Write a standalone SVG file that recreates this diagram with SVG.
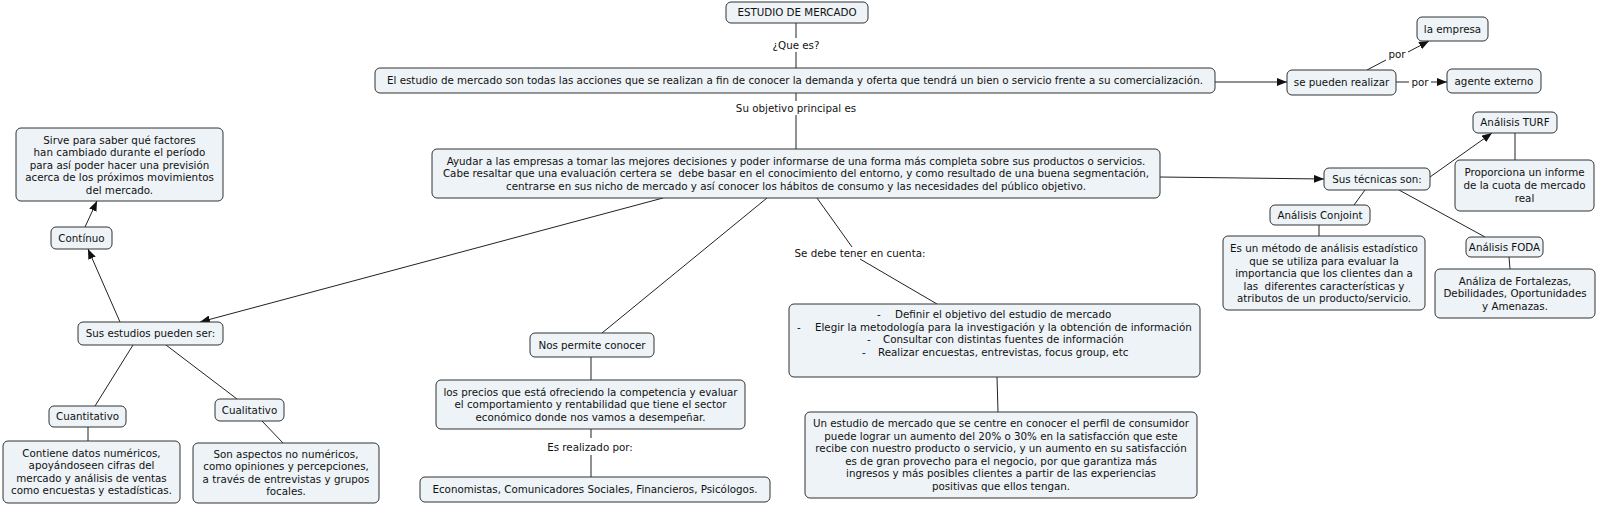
<svg xmlns="http://www.w3.org/2000/svg" width="1600" height="505" viewBox="0 0 1600 505">
<style>
.n rect{fill:#edf3f6;stroke:#333;stroke-width:1}
text{font-family:"DejaVu Sans",Verdana,sans-serif;font-size:10.3px;fill:#111;text-anchor:middle}
text.s{text-anchor:start}
.c line{stroke:#222;stroke-width:1;fill:none}
.c line.a{marker-end:url(#arr)}
</style>
<defs>
<marker id="arr" markerWidth="10" markerHeight="8" refX="10" refY="4" orient="auto" markerUnits="userSpaceOnUse"><path d="M0,0 L10,4 L0,8 z" fill="#111"/></marker>
</defs>
<rect width="1600" height="505" fill="#fff"/>
<g class="c" id="connectors">
<line x1="796" y1="23" x2="796" y2="38"/><line x1="796" y1="52" x2="796" y2="68"/>
<line x1="796" y1="93" x2="796" y2="101"/><line x1="796" y1="115" x2="796" y2="149"/>
<line class="a" x1="1215" y1="82" x2="1287" y2="82"/>
<line x1="1367" y1="70" x2="1386" y2="60"/><line class="a" x1="1408" y1="52" x2="1429" y2="41"/>
<line x1="1396" y1="82" x2="1409" y2="82"/><line class="a" x1="1431" y1="82" x2="1447" y2="82"/>
<line class="a" x1="1160" y1="177" x2="1324" y2="179"/>
<line class="a" x1="1430" y1="177" x2="1492" y2="133"/>
<line x1="1515" y1="133" x2="1515" y2="160"/>
<line x1="1365" y1="190" x2="1354" y2="205"/>
<line x1="1399" y1="190" x2="1485" y2="237"/>
<line x1="1319" y1="225" x2="1319" y2="236"/>
<line x1="1509" y1="257" x2="1510" y2="269"/>
<line class="a" x1="663" y1="198" x2="200" y2="322"/>
<line class="a" x1="120" y1="322" x2="88" y2="249"/>
<line class="a" x1="85" y1="227" x2="97" y2="201"/>
<line x1="133" y1="345" x2="95" y2="406"/>
<line x1="166" y1="345" x2="237" y2="399"/>
<line x1="88" y1="427" x2="88" y2="441"/>
<line x1="262" y1="421" x2="283" y2="443"/>
<line x1="767" y1="198" x2="602" y2="333"/>
<line x1="591" y1="357" x2="591" y2="380"/>
<line x1="591" y1="429" x2="591" y2="438"/><line x1="591" y1="455" x2="591" y2="477"/>
<line x1="817" y1="198" x2="852" y2="247"/><line x1="860" y1="259" x2="937" y2="304"/>
<line x1="997" y1="377" x2="998" y2="412"/>
</g>
<g id="labels">
<text x="796" y="48.5">¿Que es?</text>
<text x="796" y="111.5">Su objetivo principal es</text>
<text x="1397" y="57.5">por</text>
<text x="1420" y="85.5">por</text>
<text x="860" y="256.5">Se debe tener en cuenta:</text>
<text x="590" y="450.5">Es realizado por:</text>
</g>
<g class="n" id="n-estudio"><rect x="726" y="2" width="142" height="21" rx="5"/><text x="797" y="16">ESTUDIO DE MERCADO</text></g>
<g class="n" id="n-definicion"><rect x="375" y="68" width="840" height="25" rx="5"/><text x="795" y="84">El estudio de mercado son todas las acciones que se realizan a fin de conocer la demanda y oferta que tendrá un bien o servicio frente a su comercialización.</text></g>
<g class="n" id="n-realizar"><rect x="1287" y="70" width="109" height="25" rx="5"/><text x="1341.5" y="86">se pueden realizar</text></g>
<g class="n" id="n-empresa"><rect x="1417" y="17" width="71" height="24" rx="5"/><text x="1452.5" y="32.5">la empresa</text></g>
<g class="n" id="n-externo"><rect x="1447" y="69" width="94" height="24" rx="5"/><text x="1494" y="84.5">agente externo</text></g>
<g class="n" id="n-ayudar"><rect x="432" y="149" width="728" height="49" rx="5"/>
<text x="796" y="164.5">Ayudar a las empresas a tomar las mejores decisiones y poder informarse de una forma más completa sobre sus productos o servicios.</text>
<text x="796" y="177" xml:space="preserve">Cabe resaltar que una evaluación certera se  debe basar en el conocimiento del entorno, y como resultado de una buena segmentación,</text>
<text x="796" y="189.5">centrarse en sus nicho de mercado y así conocer los hábitos de consumo y las necesidades del público objetivo.</text></g>
<g class="n" id="n-tecnicas"><rect x="1324" y="168" width="106" height="22" rx="5"/><text x="1377" y="182.5">Sus técnicas son:</text></g>
<g class="n" id="n-turf"><rect x="1473" y="112" width="84" height="21" rx="5"/><text x="1515" y="126">Análisis TURF</text></g>
<g class="n" id="n-proporciona"><rect x="1455" y="160" width="139" height="51" rx="5"/>
<text x="1524.5" y="176">Proporciona un informe</text><text x="1524.5" y="189">de la cuota de mercado</text><text x="1524.5" y="202">real</text></g>
<g class="n" id="n-conjoint"><rect x="1270" y="205" width="100" height="20" rx="5"/><text x="1320" y="218.5">Análisis Conjoint</text></g>
<g class="n" id="n-conjoint-desc"><rect x="1223" y="236" width="202" height="74" rx="5"/>
<text x="1324" y="252">Es un método de análisis estadístico</text><text x="1324" y="264.5">que se utiliza para evaluar la</text><text x="1324" y="277">importancia que los clientes dan a</text><text x="1324" y="289.5" xml:space="preserve">las  diferentes características y</text><text x="1324" y="302">atributos de un producto/servicio.</text></g>
<g class="n" id="n-foda"><rect x="1466" y="237" width="77" height="20" rx="5"/><text x="1504.5" y="250.5">Análisis FODA</text></g>
<g class="n" id="n-foda-desc"><rect x="1435" y="269" width="160" height="49" rx="5"/>
<text x="1515" y="284.5">Análiza de Fortalezas,</text><text x="1515" y="297">Debilidades, Oportunidades</text><text x="1515" y="309.5">y Amenazas.</text></g>
<g class="n" id="n-sirve"><rect x="16" y="128" width="207" height="73" rx="5"/>
<text x="119.5" y="143.5">Sirve para saber qué factores</text><text x="119.5" y="156">han cambiado durante el período</text><text x="119.5" y="168.5">para así poder hacer una previsión</text><text x="119.5" y="181">acerca de los próximos movimientos</text><text x="119.5" y="193.5">del mercado.</text></g>
<g class="n" id="n-continuo"><rect x="51" y="227" width="61" height="22" rx="5"/><text x="81.5" y="241.5">Contínuo</text></g>
<g class="n" id="n-estudios"><rect x="78" y="322" width="145" height="23" rx="5"/><text x="150.5" y="337">Sus estudios pueden ser:</text></g>
<g class="n" id="n-cuantitativo"><rect x="49" y="406" width="77" height="21" rx="5"/><text x="87.5" y="420">Cuantitativo</text></g>
<g class="n" id="n-cualitativo"><rect x="215" y="399" width="69" height="22" rx="5"/><text x="249.5" y="413.5">Cualitativo</text></g>
<g class="n" id="n-cuantitativo-desc"><rect x="3" y="441" width="177" height="62" rx="5"/>
<text x="91.5" y="456.75">Contiene datos numéricos,</text><text x="91.5" y="469.25">apoyándoseen cifras del</text><text x="91.5" y="481.75">mercado y análisis de ventas</text><text x="91.5" y="494.25">como encuestas y estadísticas.</text></g>
<g class="n" id="n-cualitativo-desc"><rect x="193" y="443" width="186" height="60" rx="5"/>
<text x="286" y="457.75">Son aspectos no numéricos,</text><text x="286" y="470.25">como opiniones y percepciones,</text><text x="286" y="482.75">a través de entrevistas y grupos</text><text x="286" y="495.25">focales.</text></g>
<g class="n" id="n-nos"><rect x="530" y="333" width="124" height="24" rx="5"/><text x="592" y="348.5">Nos permite conocer</text></g>
<g class="n" id="n-precios"><rect x="436" y="380" width="309" height="49" rx="5"/>
<text x="590.5" y="395.5">los precios que está ofreciendo la competencia y evaluar</text><text x="590.5" y="408">el comportamiento y rentabilidad que tiene el sector</text><text x="590.5" y="420.5">económico donde nos vamos a desempeñar.</text></g>
<g class="n" id="n-economistas"><rect x="420" y="477" width="350" height="25" rx="5"/><text x="595" y="493">Economistas, Comunicadores Sociales, Financieros, Psicólogos.</text></g>
<g class="n" id="n-definir"><rect x="789" y="304" width="411" height="73" rx="5"/>
<text class="s" x="877" y="318">-</text><text class="s" x="895" y="318">Definir el objetivo del estudio de mercado</text>
<text class="s" x="797" y="330.5">-</text><text class="s" x="815" y="330.5">Elegir la metodología para la investigación y la obtención de información</text>
<text class="s" x="867" y="343">-</text><text class="s" x="883" y="343">Consultar con distintas fuentes de información</text>
<text class="s" x="862" y="355.5">-</text><text class="s" x="878" y="355.5">Realizar encuestas, entrevistas, focus group, etc</text></g>
<g class="n" id="n-unestudio"><rect x="805" y="412" width="392" height="86" rx="5"/>
<text x="1001" y="427.25">Un estudio de mercado que se centre en conocer el perfil de consumidor</text>
<text x="1001" y="439.75">puede lograr un aumento del 20% o 30% en la satisfacción que este</text>
<text x="1001" y="452.25">recibe con nuestro producto o servicio, y un aumento en su satisfacción</text>
<text x="1001" y="464.75">es de gran provecho para el negocio, por que garantiza más</text>
<text x="1001" y="477.25">ingresos y más posibles clientes a partir de las experiencias</text>
<text x="1001" y="489.75">positivas que ellos tengan.</text></g>
</svg>
